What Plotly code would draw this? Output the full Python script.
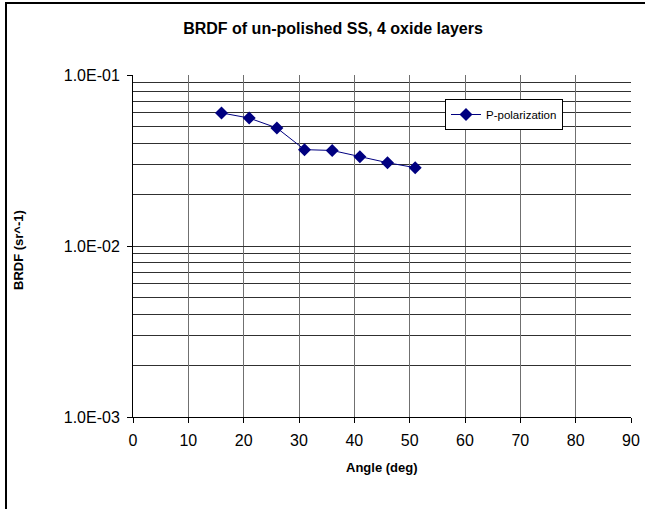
import plotly.graph_objects as go

angles = [16, 21, 26, 31, 36, 41, 46, 51]
brdf_p = [0.060, 0.056, 0.049, 0.0366, 0.0362, 0.0333, 0.0307, 0.0287]
series_name = "P-polarization"
x_ticks = [0, 10, 20, 30, 40, 50, 60, 70, 80, 90]
y_ticks = [0.001, 0.01, 0.1]
y_ticktext = ["1.0E-03", "1.0E-02", "1.0E-01"]
y_minor = [m * d for d in [0.001, 0.01] for m in range(2, 10)]

FONT = "Liberation Sans, Arial, sans-serif"

W, H = 645, 509
PL, PR, PT, PB = 133, 631, 75, 417          # plot area in page pixels
L, R, T, B = PL, W - PR, PT, H - PB
pw, ph = PR - PL, PB - PT


def px(x):
    return (x - PL) / pw


def py(y):
    return (PB - y) / ph


fig = go.Figure()
fig.add_trace(go.Scatter(
    x=angles, y=brdf_p, name=series_name, mode="lines+markers",
    line=dict(color="#000080", width=1),
    marker=dict(symbol="diamond", size=10, color="#000080"),
))

fig.update_layout(
    width=W, height=H,
    margin=dict(l=L, r=R, t=T, b=B, autoexpand=False),
    paper_bgcolor="white", plot_bgcolor="white",
    font=dict(family=FONT, color="black"),
    showlegend=True,
    legend=dict(
        x=px(445), y=py(99),
        xanchor="left", yanchor="top",
        bgcolor="white", bordercolor="black", borderwidth=1,
        font=dict(size=11.5, family=FONT),
        itemwidth=30,
    ),
    title=dict(
        text="<b>BRDF of un-polished SS, 4 oxide layers</b>",
        x=333 / W, xanchor="center", xref="container",
        y=1 - 28 / H, yanchor="middle", yref="container",
        font=dict(size=16, family=FONT),
    ),
    xaxis=dict(
        range=[0, 90], tickvals=x_ticks, ticks="outside", ticklen=5,
        tickcolor="black", showline=True, linecolor="black", linewidth=1,
        showgrid=True, gridcolor="#707070", gridwidth=1,
        zeroline=False, tickfont=dict(size=16, family=FONT),
        ticklabelstandoff=4,
    ),
    yaxis=dict(
        type="log", range=[-3, -1],
        tickvals=y_ticks, ticktext=y_ticktext,
        ticks="outside", ticklen=5, tickcolor="black",
        showline=True, linecolor="black", linewidth=1,
        showgrid=True, gridcolor="#303030", gridwidth=1,
        minor=dict(tickvals=y_minor, showgrid=True, gridcolor="#303030",
                   gridwidth=1, ticks=""),
        zeroline=False, tickfont=dict(size=16, family=FONT),
        ticklabelstandoff=4,
    ),
    annotations=[
        dict(text="<b>Angle (deg)</b>", x=px(382), y=py(467),
             xref="paper", yref="paper", showarrow=False,
             xanchor="center", yanchor="middle",
             font=dict(size=13, family=FONT)),
        dict(text="<b>BRDF (sr^-1)</b>", x=px(18), y=py(250),
             xref="paper", yref="paper", showarrow=False,
             xanchor="center", yanchor="middle",
             font=dict(size=13, family=FONT), textangle=-90),
    ],
)

# outer chart-area border (top and left edges visible in reference)
fig.add_shape(type="line", xref="paper", yref="paper",
              x0=px(5), x1=px(645),
              y0=py(3), y1=py(3),
              line=dict(color="black", width=2))
fig.add_shape(type="line", xref="paper", yref="paper",
              x0=px(6), x1=px(6),
              y0=py(2), y1=py(509),
              line=dict(color="black", width=2))

fig.write_html(
    "out.html",
    config={"displayModeBar": False},
    post_script=(
        "document.body.style.margin='0';"
        "document.body.style.overflow='hidden';"
        "document.documentElement.style.overflow='hidden';"
    ),
)
